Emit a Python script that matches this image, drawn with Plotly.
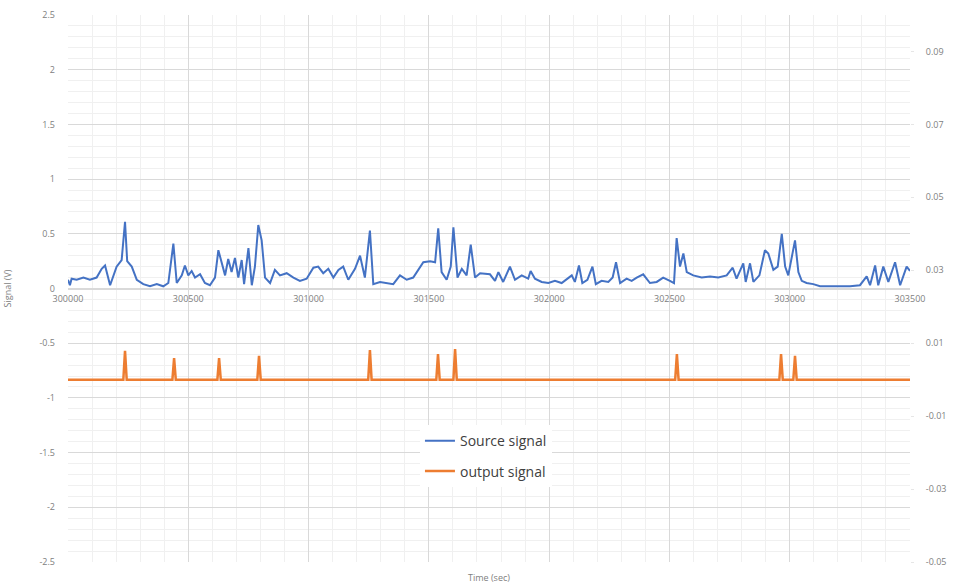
import plotly.graph_objects as go

# Source signal (V), left axis
src_time = [
    300000, 300008, 300015, 300036, 300064, 300091, 300119, 300140, 300154, 300175,
    300202, 300223, 300237, 300246, 300265, 300286, 300313, 300341, 300369, 300396,
    300417, 300438, 300452, 300473, 300486, 300500, 300514, 300528, 300549, 300569,
    300590, 300611, 300625, 300639, 300653, 300666, 300680, 300694, 300708, 300722,
    300732, 300750, 300764, 300777, 300791, 300805, 300819, 300840, 300860, 300881,
    300909, 300937, 300964, 300992, 301020, 301040, 301061, 301082, 301103, 301124,
    301144, 301165, 301193, 301214, 301234, 301255, 301269, 301297, 301325, 301352,
    301380, 301408, 301435, 301456, 301477, 301505, 301526, 301539, 301553, 301574,
    301591, 301602, 301619, 301637, 301657, 301674, 301692, 301713, 301740, 301754,
    301775, 301789, 301809, 301837, 301858, 301886, 301913, 301923, 301941, 301969,
    301997, 302024, 302052, 302075, 302094, 302107, 302124, 302138, 302159, 302180,
    302194, 302218, 302246, 302264, 302278, 302295, 302322, 302343, 302364, 302391,
    302419, 302447, 302474, 302502, 302519, 302530, 302544, 302558, 302572, 302599,
    302634, 302669, 302703, 302738, 302763, 302779, 302807, 302817, 302835, 302849,
    302874, 302897, 302911, 302932, 302950, 302967, 302981, 302994, 303022, 303036,
    303050, 303070, 303098, 303126, 303168, 303209, 303251, 303292, 303320, 303334,
    303355, 303368, 303389, 303410, 303438, 303459, 303486, 303500,
]
src_value = [
    0.08, 0.03, 0.09, 0.08, 0.10, 0.08, 0.10, 0.18, 0.21, 0.03,
    0.20, 0.26, 0.61, 0.25, 0.20, 0.08, 0.04, 0.02, 0.04, 0.02,
    0.05, 0.41, 0.05, 0.12, 0.21, 0.12, 0.16, 0.10, 0.13, 0.05,
    0.03, 0.10, 0.35, 0.23, 0.12, 0.27, 0.15, 0.28, 0.10, 0.26,
    0.04, 0.37, 0.03, 0.20, 0.58, 0.44, 0.10, 0.05, 0.17, 0.12,
    0.14, 0.10, 0.07, 0.09, 0.19, 0.20, 0.14, 0.18, 0.10, 0.17,
    0.20, 0.08, 0.18, 0.30, 0.10, 0.53, 0.04, 0.06, 0.05, 0.04,
    0.12, 0.08, 0.10, 0.17, 0.24, 0.25, 0.24, 0.55, 0.15, 0.08,
    0.20, 0.56, 0.10, 0.18, 0.12, 0.40, 0.10, 0.14, 0.13, 0.13,
    0.07, 0.15, 0.06, 0.20, 0.08, 0.12, 0.09, 0.16, 0.09, 0.06,
    0.05, 0.07, 0.05, 0.09, 0.12, 0.06, 0.21, 0.05, 0.08, 0.20,
    0.04, 0.07, 0.06, 0.10, 0.24, 0.05, 0.09, 0.07, 0.10, 0.13,
    0.05, 0.06, 0.10, 0.07, 0.05, 0.46, 0.20, 0.32, 0.15, 0.12,
    0.10, 0.11, 0.10, 0.12, 0.19, 0.09, 0.23, 0.06, 0.23, 0.06,
    0.12, 0.35, 0.32, 0.17, 0.20, 0.50, 0.20, 0.12, 0.44, 0.15,
    0.07, 0.05, 0.04, 0.02, 0.02, 0.02, 0.02, 0.03, 0.11, 0.03,
    0.21, 0.03, 0.20, 0.06, 0.24, 0.03, 0.20, 0.16,
]

# Output signal, right axis: flat at zero with short pulses
out_time = [
    300000,
    300230, 300237, 300244,
    300434, 300441, 300448,
    300621, 300628, 300635,
    300787, 300794, 300801,
    301248, 301255, 301262,
    301531, 301538, 301545,
    301602, 301609, 301616,
    302524, 302531, 302538,
    302957, 302964, 302971,
    303015, 303022, 303029,
    303500,
]
out_value = [
    0.0,
    0.0, 0.0079, 0.0,
    0.0, 0.0059, 0.0,
    0.0, 0.0059, 0.0,
    0.0, 0.0065, 0.0,
    0.0, 0.0081, 0.0,
    0.0, 0.0070, 0.0,
    0.0, 0.0084, 0.0,
    0.0, 0.0070, 0.0,
    0.0, 0.0070, 0.0,
    0.0, 0.0065, 0.0,
    0.0,
]

left_ticks = [2.5, 2, 1.5, 1, 0.5, 0, -0.5, -1, -1.5, -2, -2.5]
left_labels = ["2.5", "2", "1.5", "1", "0.5", "0", "-0.5", "-1", "-1.5", "-2", "-2.5"]
right_ticks = [0.09, 0.07, 0.05, 0.03, 0.01, -0.01, -0.03, -0.05]
right_labels = ["0.09", "0.07", "0.05", "0.03", "0.01", "-0.01", "-0.03", "-0.05"]

BLUE = "#4472C4"
ORANGE = "#ED7D31"
TICK = "#808080"
FONT = "Open Sans"

fig = go.Figure()
fig.add_trace(go.Scatter(
    x=src_time, y=src_value, mode="lines", name="Source signal",
    line=dict(color=BLUE, width=2), legendgroup="a", yaxis="y",
))
fig.add_trace(go.Scatter(
    x=out_time, y=out_value, mode="lines", name="output signal",
    line=dict(color=ORANGE, width=2.5), legendgroup="b", yaxis="y2",
))

fig.update_layout(
    width=955, height=586,
    margin=dict(l=68, r=45, t=15, b=24),
    paper_bgcolor="white", plot_bgcolor="white",
    font=dict(family=FONT, size=9, color=TICK),
    showlegend=True,
    legend=dict(
        x=0.418, y=0.25, xanchor="left", yanchor="top",
        bgcolor="white", font=dict(size=14, color="#404040", family=FONT),
        tracegroupgap=9, itemwidth=30,
    ),
    xaxis=dict(
        range=[300000, 303500], tick0=300000, dtick=500, tickformat="d",
        anchor="free", position=0.5, automargin=False,
        showline=True, linecolor="#D9D9D9", linewidth=1,
        showgrid=True, gridcolor="#D9D9D9", gridwidth=1,
        minor=dict(dtick=100, showgrid=True, gridcolor="#F0F0F0", gridwidth=1),
        ticks="", zeroline=False, tickfont=dict(size=9, color=TICK),
        ticklabelstandoff=2,
    ),
    yaxis=dict(
        range=[-2.5, 2.5], tickvals=left_ticks, ticktext=left_labels,
        showgrid=True, gridcolor="#D9D9D9", gridwidth=1,
        minor=dict(dtick=0.1, tick0=0, showgrid=True, gridcolor="#F0F0F0", gridwidth=1),
        zeroline=False, showline=False, ticks="", automargin=False,
        tickfont=dict(size=9, color=TICK), ticklabelstandoff=12,
        title=dict(text="Signal (V)", font=dict(size=9, color=TICK), standoff=26),
    ),
    yaxis2=dict(
        range=[-0.05, 0.1], tickvals=right_ticks, ticktext=right_labels,
        overlaying="y", side="right", showgrid=False, zeroline=False,
        showline=False, ticks="outside", ticklen=3, tickcolor="#E6E6E6",
        tickfont=dict(size=9, color=TICK), ticklabelstandoff=10, automargin=False,
    ),
    annotations=[dict(
        text="Time (sec)", xref="paper", yref="paper", x=0.5, y=-0.012,
        xanchor="center", yanchor="top", showarrow=False,
        font=dict(size=9, color=TICK, family=FONT),
    )],
)

fig.write_html("out.html")
